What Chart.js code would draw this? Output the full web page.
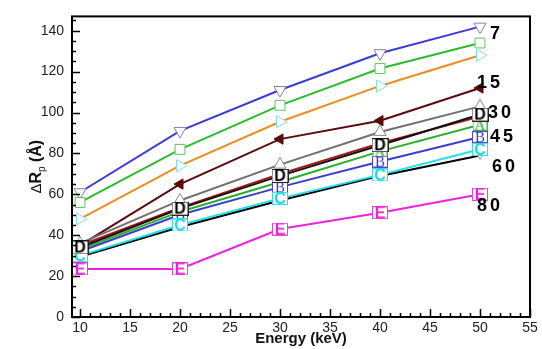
<!DOCTYPE html>
<html>
<head>
<meta charset="utf-8">
<script src="https://cdn.jsdelivr.net/npm/chart.js@4/dist/chart.umd.min.js"></script>
<style>
  html, body { margin: 0; padding: 0; background: #fff; }
  #wrap { width: 542px; height: 349px; position: relative; }
</style>
</head>
<body>
<div id="wrap"><canvas id="c" width="542" height="349"></canvas></div>
<script>
// Beam energies (keV)
const energy = [10, 20, 30, 40, 50];

// Range straggling ΔRp (Å) for each curve
const seriesBlueTri   = [61, 91, 111, 129, 142];
const seriesGreenSq   = [56, 82, 103.5, 121.5, 134];
const seriesOrange    = [48, 74, 95.5, 113, 128];
const seriesMaroon    = [35, 65, 87, 96, 112];
const seriesGray      = [36, 57, 74.5, 90.5, 103];
const seriesD         = [34, 53, 69, 84, 99];
const seriesRed       = [35, 53.5, 70, 85, 98];
const seriesA         = [33, 51.5, 66, 81, 94];
const seriesB         = [32, 50, 63.5, 76, 88];
const seriesC         = [30, 45, 58, 69.5, 82];
const seriesBlack     = [29.5, 44, 57, 69, 79];
const seriesE         = [23.5, 23.5, 43, 51, 60];

// Axis tick values
const xTicks = [10, 15, 20, 25, 30, 35, 40, 45, 50, 55];
const yTicks = [0, 20, 40, 60, 80, 100, 120, 140];

// Angle labels beside the curve groups
const angleLabels = ['7', '15', '30', '45', '60', '80'];
const angleLabelAt = [[51, 138.2], [49.7, 114.5], [50.8, 99.6], [51, 88.1], [51.2, 73.3], [49.7, 54.1]];

function pts(ys) { return energy.map((x, i) => ({ x: x, y: ys[i] })); }

// Boxed letter symbols
function boxMarker(letter, border, textColor, font, w, h, dy) {
  const c = document.createElement('canvas');
  c.width = w; c.height = h;
  const g = c.getContext('2d');
  g.fillStyle = '#fff';
  g.fillRect(0, 0, w, h);
  g.strokeStyle = border;
  g.lineWidth = 1;
  g.strokeRect(0.5, 0.5, w - 1, h - 1);
  g.fillStyle = textColor;
  g.font = font;
  g.textAlign = 'center';
  g.textBaseline = 'middle';
  g.fillText(letter, w / 2, h / 2 + (dy || 0));
  return c;
}
const mD = boxMarker('D', '#222', '#000', 'bold 16px "Liberation Sans", Arial', 17, 14, 1);
const mA = boxMarker('A', '#3cb83c', '#2aa82a', '15px "Liberation Serif", serif', 15, 12, 1);
const mB = boxMarker('B', '#4a4ad0', '#3c3cc8', '15px "Liberation Serif", serif', 16, 12, 1);
const mC = boxMarker('C', '#40d8e0', '#20d8e4', 'bold 16px "Liberation Sans", Arial', 16, 13, 1);
const mE = boxMarker('E', '#d050c8', '#f020e0', 'bold 16px "Liberation Sans", Arial', 16, 13, 1);

function ds(data, color, extra) {
  return Object.assign({
    data: pts(data),
    borderColor: color,
    borderWidth: 2,
    pointRadius: 0,
    pointHoverRadius: 0,
    tension: 0,
    clip: false
  }, extra || {});
}

// Earlier entries are painted on top
const datasets = [
  ds(seriesD, '#111111', { pointStyle: mD, pointRadius: 8 }),
  ds(seriesC, '#20e0ea', { pointStyle: mC, pointRadius: 8 }),
  ds(seriesB, '#3c3cd0', { pointStyle: mB, pointRadius: 8 }),
  ds(seriesA, '#28b028', { pointStyle: mA, pointRadius: 8 }),
  ds(seriesE, '#f020e0', { pointStyle: mE, pointRadius: 8 }),
  ds(seriesBlack, '#000000', { pointStyle: 'triangle', pointRotation: 180, pointRadius: 4,
     pointBorderColor: '#999', pointBackgroundColor: '#fff', pointBorderWidth: 1 }),
  ds(seriesRed, '#a81616'),
  ds(seriesGray, '#707070', { pointStyle: 'triangle', pointRadius: 7,
     pointBorderColor: '#888', pointBackgroundColor: '#fff', pointBorderWidth: 1 }),
  ds(seriesMaroon, '#5a0a0a', { pointStyle: 'triangle', pointRotation: -90, pointRadius: 6,
     pointBorderColor: '#5a0a0a', pointBackgroundColor: '#5a0a0a', pointBorderWidth: 1 }),
  ds(seriesOrange, '#f08c1e', { pointStyle: 'triangle', pointRotation: 90, pointRadius: 7,
     pointBorderColor: '#80e0f0', pointBackgroundColor: '#fff', pointBorderWidth: 1 }),
  ds(seriesGreenSq, '#2cbb2c', { pointStyle: 'rect', pointRadius: 7,
     pointBorderColor: '#60c060', pointBackgroundColor: '#fff', pointBorderWidth: 1 }),
  ds(seriesBlueTri, '#3a3ad8', { pointStyle: 'triangle', pointRotation: 180, pointRadius: 7,
     pointBorderColor: '#8080b0', pointBackgroundColor: '#fff', pointBorderWidth: 1 })
];

// Frame, inward ticks, axis title and angle labels
const decor = {
  id: 'decor',
  afterDraw(chart) {
    const { ctx, chartArea: a, scales: { x, y } } = chart;
    ctx.save();
    ctx.strokeStyle = '#000';
    ctx.lineWidth = 1.5;
    ctx.beginPath();
    for (let v = 10; v <= 55; v += 1) {
      const px = Math.round(x.getPixelForValue(v)) + 0.5;
      const len = (v % 5 === 0) ? 8 : 4;
      ctx.moveTo(px, a.bottom);
      ctx.lineTo(px, a.bottom - len);
    }
    for (let v = 0; v <= 145; v += 5) {
      const py = Math.round(y.getPixelForValue(v)) + 0.5;
      const len = (v % 20 === 0) ? 8 : 4;
      ctx.moveTo(a.left, py);
      ctx.lineTo(a.left + len, py);
    }
    ctx.stroke();
    ctx.lineWidth = 2;
    ctx.strokeRect(a.left, a.top, a.right - a.left, a.bottom - a.top);

    // y-axis title: ΔRp (Å)
    ctx.translate(35, (a.top + a.bottom) / 2);
    ctx.rotate(-Math.PI / 2);
    ctx.fillStyle = '#111';
    ctx.textBaseline = 'alphabetic';
    const parts = [
      { t: 'Δ', f: '15px "Liberation Sans", Arial', dy: 0 },
      { t: 'R', f: 'bold 16px "Liberation Sans", Arial', dy: 0 },
      { t: 'p', f: '10px "Liberation Sans", Arial', dy: 4 },
      { t: ' (Å)', f: 'bold 16px "Liberation Sans", Arial', dy: 0 }
    ];
    let total = 0;
    parts.forEach(p => { ctx.font = p.f; p.w = ctx.measureText(p.t).width; total += p.w; });
    let cx = -total / 2;
    parts.forEach(p => { ctx.font = p.f; ctx.fillText(p.t, cx, 6 + p.dy); cx += p.w; });
    ctx.restore();

    ctx.save();
    ctx.fillStyle = '#000';
    ctx.font = 'bold 18px "Liberation Sans", Arial';
    ctx.letterSpacing = '3px';
    ctx.textBaseline = 'middle';
    ctx.textAlign = 'left';
    angleLabels.forEach((t, i) => {
      ctx.fillText(t, x.getPixelForValue(angleLabelAt[i][0]), y.getPixelForValue(angleLabelAt[i][1]));
    });
    ctx.restore();
  }
};

new Chart(document.getElementById('c'), {
  type: 'line',
  data: { datasets: datasets },
  options: {
    responsive: false,
    animation: false,
    events: [],
    layout: { padding: { top: 9, right: 12, left: 0, bottom: 0 } },
    plugins: { legend: { display: false }, tooltip: { enabled: false } },
    scales: {
      x: {
        type: 'linear',
        min: 9.2,
        max: 55,
        afterBuildTicks: s => { s.ticks = xTicks.map(v => ({ value: v })); },
        afterFit: s => { s.height = 32; },
        grid: { display: false, drawTicks: false },
        border: { display: false },
        ticks: { color: '#222', font: { size: 14, family: '"Liberation Sans", Arial' }, padding: 3, maxRotation: 0 },
        title: { display: true, text: 'Energy (keV)', color: '#111',
                 font: { size: 15, weight: 'bold', family: '"Liberation Sans", Arial' }, padding: { top: 0, bottom: 1 } }
      },
      y: {
        type: 'linear',
        min: 0,
        max: 147,
        afterBuildTicks: s => { s.ticks = yTicks.map(v => ({ value: v })); },
        afterFit: s => { s.width = 72; },
        grid: { display: false, drawTicks: false },
        border: { display: false },
        ticks: { color: '#222', font: { size: 14, family: '"Liberation Sans", Arial' }, padding: 8 }
      }
    }
  },
  plugins: [decor]
});
</script>
</body>
</html>
